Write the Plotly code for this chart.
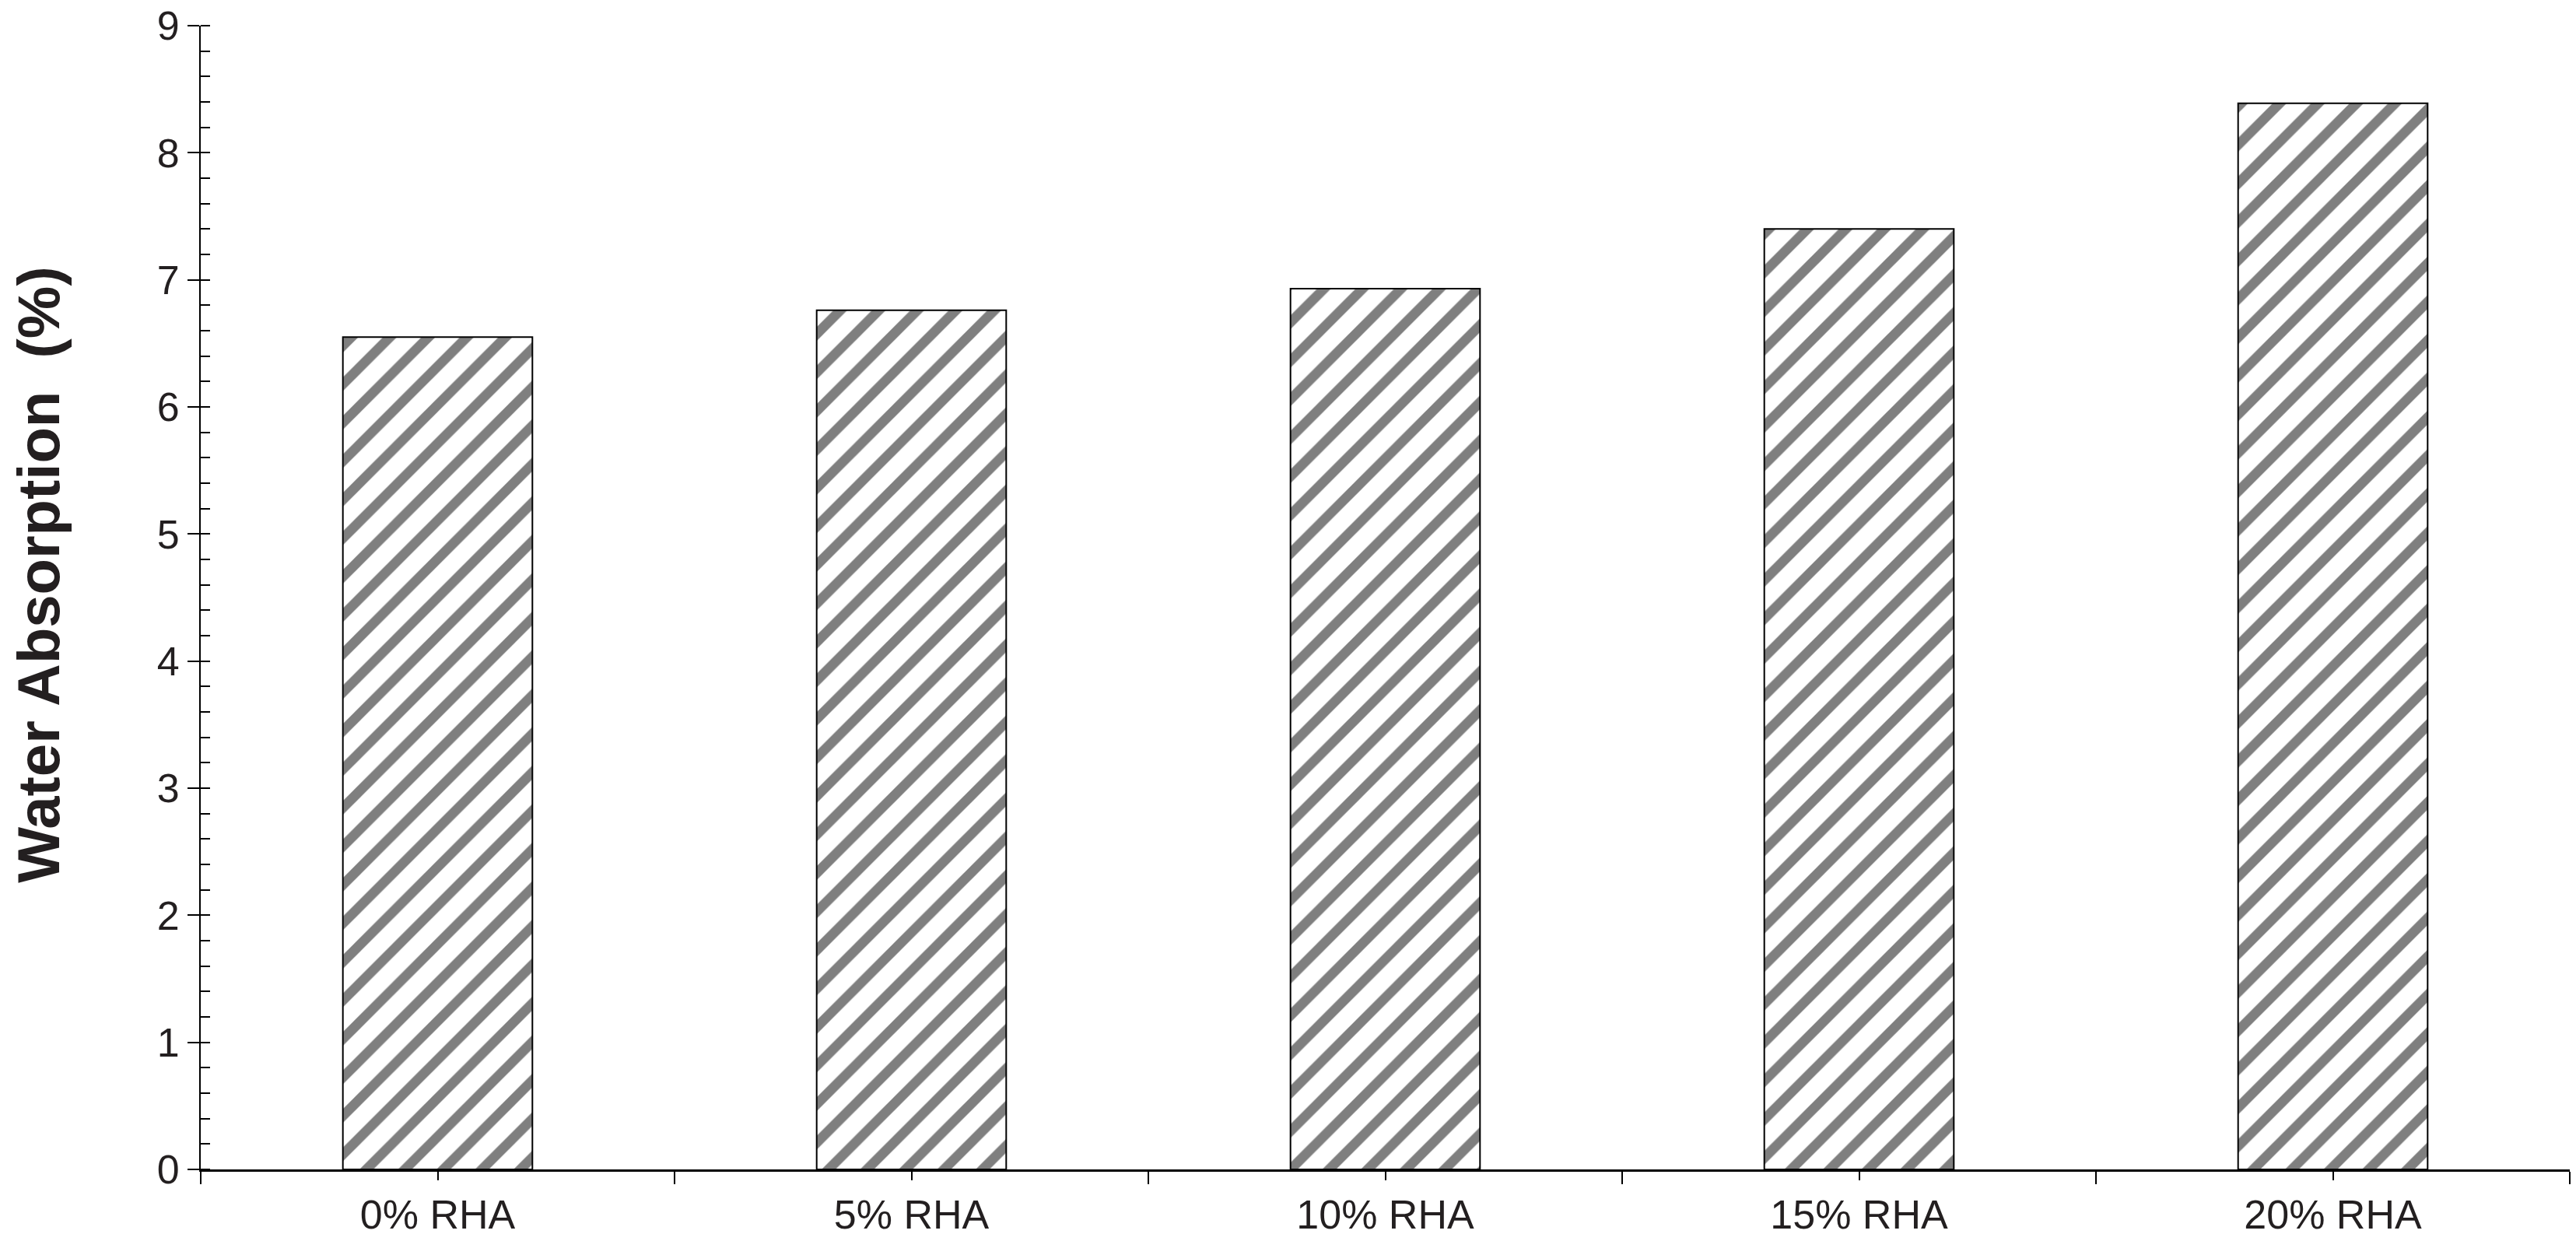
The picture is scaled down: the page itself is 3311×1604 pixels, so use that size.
import plotly.graph_objects as go

# water absorption of bricks with rice husk ash (RHA) replacement
categories = ['0% RHA', '5% RHA', '10% RHA', '15% RHA', '20% RHA']
water_absorption = [6.55, 6.76, 6.93, 7.40, 8.39]
y_ticks = [0, 1, 2, 3, 4, 5, 6, 7, 8, 9]

x_pos = list(range(len(categories)))
boundaries = [i - 0.5 for i in range(len(categories) + 1)]

fig = go.Figure()
fig.add_trace(go.Bar(x=x_pos, y=water_absorption, width=0.4,
                     marker=dict(color='#7f7f7f',
                                 line=dict(color='black', width=2),
                                 pattern=dict(shape='/', size=35, solidity=0.36,
                                              fillmode='replace', fgopacity=1))))

fig.add_annotation(text='<b>Water Absorption  (%)</b>', textangle=-90,
                   xref='paper', yref='paper', x=-0.0683, y=0.52,
                   xanchor='center', yanchor='middle',
                   showarrow=False, font=dict(size=76, color='#231f20'))

fig.update_layout(width=3311, height=1604,
                  margin=dict(l=258, r=8, t=33, b=101, autoexpand=False),
                  plot_bgcolor='white', paper_bgcolor='white',
                  showlegend=False,
                  font=dict(family='Liberation Sans, Arial, sans-serif', size=52, color='#231f20'),
                  xaxis=dict(range=[-0.5, len(categories) - 0.5], automargin=False,
                             tickmode='array', tickvals=x_pos, ticktext=categories,
                             ticks='outside', ticklen=11, tickwidth=2, tickcolor='black',
                             showline=True, linecolor='black', linewidth=3,
                             showgrid=False, zeroline=False,
                             minor=dict(tickmode='array', tickvals=boundaries,
                                        ticks='outside', ticklen=16, tickwidth=2, tickcolor='black')),
                  yaxis=dict(range=[0, 9], automargin=False,
                             tickmode='array', tickvals=y_ticks,
                             ticks='outside', ticklen=15, tickwidth=2, tickcolor='black',
                             ticklabeloverflow='allow',
                             showline=True, linecolor='black', linewidth=2,
                             showgrid=False, zeroline=False,
                             minor=dict(dtick=0.2, ticks='inside', ticklen=12, tickwidth=2,
                                        tickcolor='black')),
                  # inside half of the crossing major ticks
                  yaxis2=dict(range=[0, 9], overlaying='y', side='left', automargin=False,
                              tickmode='array', tickvals=y_ticks,
                              ticks='inside', ticklen=12, tickwidth=2, tickcolor='black',
                              showticklabels=False, showgrid=False, zeroline=False,
                              showline=False))

# drop the default 8px page margin so the figure fills the window exactly
fig.write_html("out.html", config={'displayModeBar': False},
               post_script="document.body.style.margin='0';")
